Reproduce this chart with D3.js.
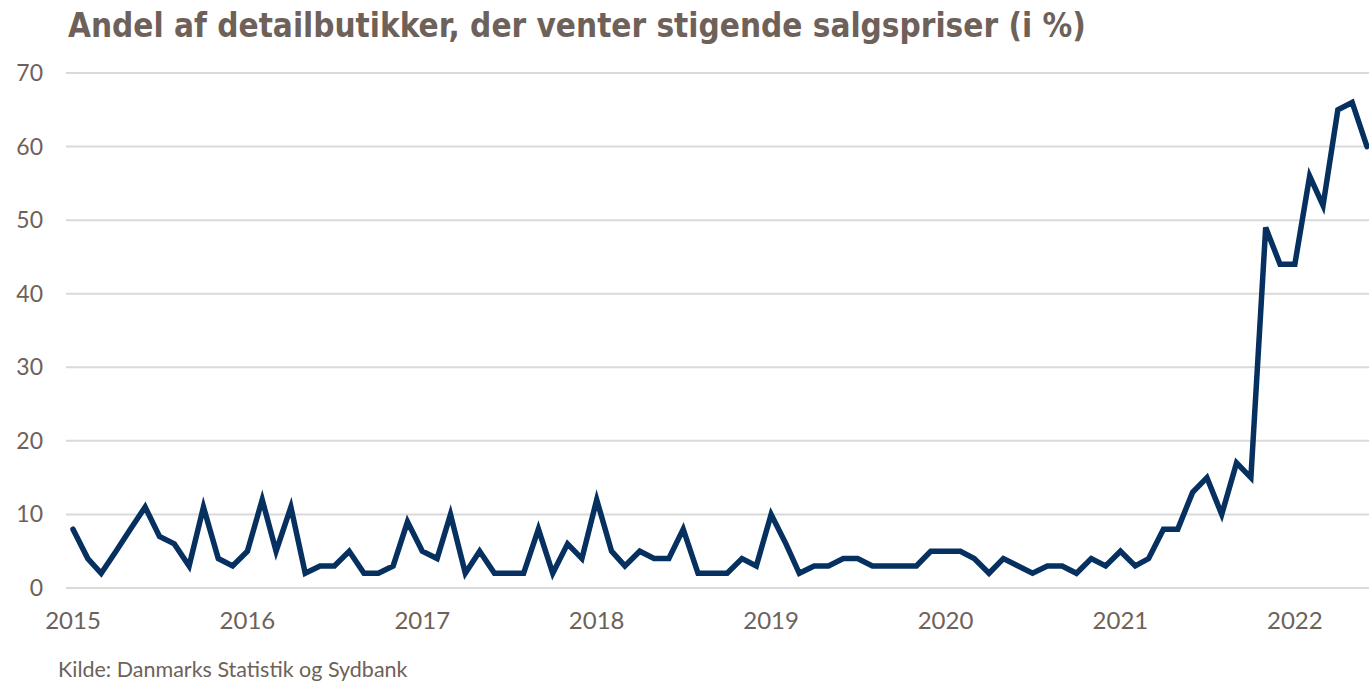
<!DOCTYPE html>
<html>
<head>
<meta charset="utf-8">
<script src="https://cdn.jsdelivr.net/npm/d3@7"></script>
<style>
  body { margin: 0; background: #fff; }
  svg { display: block; }
</style>
</head>
<body>
<svg id="chart"></svg>
<script>
// monthly share (%) of retailers expecting rising prices, Jan 2015 - Jun 2022
const startMonth = "2015-01"
const values = [
  8, 4, 2, 5, 8, 11, 7, 6, 3, 11, 4, 3,        // 2015
  5, 12, 5, 11, 2, 3, 3, 5, 2, 2, 3, 9,        // 2016
  5, 4, 10, 2, 5, 2, 2, 2, 8, 2, 6, 4,         // 2017
  12, 5, 3, 5, 4, 4, 8, 2, 2, 2, 4, 3,         // 2018
  10, 6, 2, 3, 3, 4, 4, 3, 3, 3, 3, 5,         // 2019
  5, 5, 4, 2, 4, 3, 2, 3, 3, 2, 4, 3,          // 2020
  5, 3, 4, 8, 8, 13, 15, 10, 17, 15, 49, 44,   // 2021
  44, 56, 52, 65, 66, 60                       // 2022
]
const yTicks = [0, 10, 20, 30, 40, 50, 60, 70]
const years = [2015, 2016, 2017, 2018, 2019, 2020, 2021, 2022]

const title = "Andel af detailbutikker, der venter stigende salgspriser (i %)"
const source = "Kilde: Danmarks Statistik og Sydbank"

const width = 1369
const height = 682
const margin = {top: 73, right: 2, bottom: 94, left: 73}

const parse = d3.utcParse("%Y-%m")
const start = parse(startMonth)
const rows = values.map((v, i) => ({date: d3.utcMonth.offset(start, i), value: v}))

const svg = d3.select("svg#chart")
  .attr("width", width)
  .attr("height", height)
  .attr("viewBox", `0 0 ${width} ${height}`)

const x = d3.scaleUtc()
  .domain(d3.extent(rows, d => d.date))
  .range([margin.left, width - margin.right])

const y = d3.scaleLinear()
  .domain([0, 70])
  .range([height - margin.bottom, margin.top])

const textColor = "#6e6159"
const labelFont = "Lato, 'Open Sans', sans-serif"

// gridlines
svg.append("g")
  .selectAll("line")
  .data(yTicks)
  .join("line")
    .attr("x1", 66)
    .attr("x2", width)
    .attr("y1", d => y(d))
    .attr("y2", d => y(d))
    .attr("stroke", "#d9d9d9")
    .attr("stroke-width", 2)

// y labels
svg.append("g")
  .attr("font-family", labelFont)
  .attr("font-size", 23)
  .attr("fill", textColor)
  .attr("text-anchor", "end")
  .selectAll("text")
  .data(yTicks)
  .join("text")
    .attr("x", 43)
    .attr("y", d => y(d))
    .attr("dy", "0.35em")
    .text(d => d)

// x labels
svg.append("g")
  .attr("font-family", labelFont)
  .attr("font-size", 24)
  .attr("fill", textColor)
  .attr("text-anchor", "middle")
  .selectAll("text")
  .data(years)
  .join("text")
    .attr("x", d => x(Date.UTC(d, 0, 1)))
    .attr("y", 629)
    .text(d => d)

const line = d3.line()
  .x(d => x(d.date))
  .y(d => y(d.value))

svg.append("path")
  .datum(rows)
  .attr("d", line)
  .attr("fill", "none")
  .attr("stroke", "#05305f")
  .attr("stroke-width", 5.5)
  .attr("stroke-linejoin", "miter")
  .attr("stroke-linecap", "round")

svg.append("text")
  .attr("x", 68)
  .attr("y", 37)
  .attr("font-family", "'Liberation Sans Narrow', 'DejaVu Sans Condensed', sans-serif")
  .attr("font-weight", "bold")
  .attr("font-size", 33)
  .attr("fill", textColor)
  .text(title)

svg.append("text")
  .attr("x", 58)
  .attr("y", 677)
  .attr("font-family", labelFont)
  .attr("font-size", 21.5)
  .attr("fill", textColor)
  .text(source)
</script>
</body>
</html>
